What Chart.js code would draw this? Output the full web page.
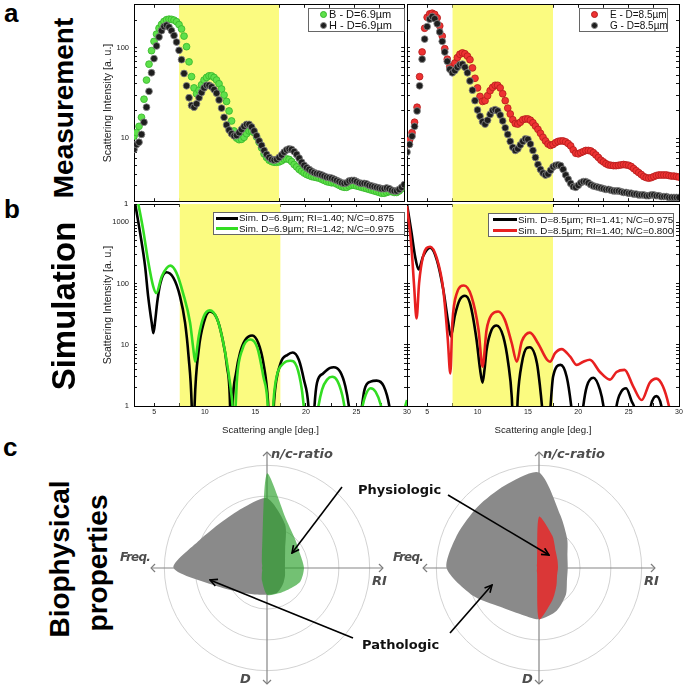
<!DOCTYPE html>
<html>
<head>
<meta charset="utf-8">
<script src="https://cdn.jsdelivr.net/npm/chart.js@4"></script>
<style>
  body { margin: 0; background: #fff; }
  #fig { position: relative; width: 685px; height: 686px; overflow: hidden; font-family: "Liberation Sans", Arial, sans-serif; }
  #fig canvas { position: absolute; }
  .t { position: absolute; white-space: nowrap; line-height: 1; }
  .rot { position: absolute; white-space: nowrap; line-height: 1; font-weight: bold; transform: translate(-50%, -50%) rotate(-90deg); }
  .ax { position: absolute; white-space: nowrap; line-height: 1; font-family: "DejaVu Sans", sans-serif; font-weight: bold; font-style: italic; color: #4d4d4d; font-size: 13px; transform: translateY(-50%); }
  .fq { font-size: 12px; letter-spacing: -0.8px; transform: translate(-100%, -50%); }
  .call { position: absolute; white-space: nowrap; line-height: 1; font-family: "DejaVu Sans", sans-serif; font-weight: bold; font-size: 13px; color: #111; transform: translateY(-50%); }
  .lg { position: absolute; box-sizing: border-box; border: 1px solid #666; background: #fff; display: flex; flex-direction: column; justify-content: center; line-height: 1; color: #111; overflow: hidden; }
  .lr { display: flex; align-items: center; height: 11px; white-space: nowrap; }
  .dot { display: inline-block; flex-shrink: 0; box-sizing: border-box; width: 7px; height: 7px; border-radius: 50%; border: 0.8px solid; }
  .seg { display: inline-block; flex-shrink: 0; height: 3px; }
  svg { position: absolute; left: 0; top: 0; }
</style>
</head>
<body>
<div id="fig">
  <canvas id="tl" width="313" height="206" style="left:96px;top:0px"></canvas>
  <canvas id="tr" width="285" height="206" style="left:400px;top:0px"></canvas>
  <canvas id="bl" width="321" height="238" style="left:96px;top:202px"></canvas>
  <canvas id="br" width="285" height="238" style="left:400px;top:202px"></canvas>
  <canvas id="rl" width="248" height="248" style="left:143px;top:444px"></canvas>
  <canvas id="rr" width="248" height="248" style="left:415px;top:444px"></canvas>

  <div class="t" style="left:4px;top:0px;font-size:26px;font-weight:bold">a</div>
  <div class="t" style="left:4px;top:196px;font-size:26px;font-weight:bold">b</div>
  <div class="t" style="left:3px;top:434px;font-size:26px;font-weight:bold">c</div>
  <div class="rot" style="left:64px;top:108px;font-size:28px">Measurement</div>
  <div class="rot" style="left:63px;top:306px;font-size:33px">Simulation</div>
  <div class="rot" style="left:60px;top:559px;font-size:28px">Biophysical</div>
  <div class="rot" style="left:98px;top:563px;font-size:28px">properties</div>
  <div class="t" style="left:124px;top:200px;font-size:7.5px">1</div>

  <div class="ax" style="left:271px;top:453px">n/c-ratio</div>
  <div class="ax fq" style="left:150px;top:557px">Freq.</div>
  <div class="ax" style="left:372px;top:580px">RI</div>
  <div class="ax" style="left:240px;top:678px">D</div>
  <div class="ax" style="left:543px;top:453px">n/c-ratio</div>
  <div class="ax fq" style="left:423px;top:557px">Freq.</div>
  <div class="ax" style="left:644px;top:580px">RI</div>
  <div class="ax" style="left:522px;top:678px">D</div>
  <div class="call" style="left:358px;top:489px">Physiologic</div>
  <div class="call" style="left:362px;top:644px">Pathologic</div>

  <svg width="685" height="686">
    <defs>
      <marker id="ah" viewBox="0 0 10 10" refX="9" refY="5" markerWidth="9" markerHeight="9" markerUnits="userSpaceOnUse" orient="auto">
        <path d="M1,1 L9,5 L1,9" fill="none" stroke="#000" stroke-width="1.8"/>
      </marker>
    </defs>
    <g stroke="#000" stroke-width="1.6" fill="none" marker-end="url(#ah)">
      <line x1="342" y1="487" x2="292" y2="553"/>
      <line x1="448" y1="495" x2="549" y2="555"/>
      <line x1="353" y1="638" x2="210" y2="580"/>
      <line x1="450" y1="633" x2="492" y2="585"/>
    </g>
  </svg>
</div>

<script>
// scattering angle of the measured points, 0.25 deg step from 3 to 30 deg
const measAngles = Array.from({ length: 109 }, (_, i) => 3 + i * 0.25);

// measurement, D = 6.9 um
const measB = [10.5, 11.5, 13.5, 17, 27, 44, 66, 93, 118, 142,
  165, 182, 196, 205, 208, 207, 203, 195, 181, 162,
  135, 103, 70, 48, 36, 31, 34, 39, 44, 47,
  49, 49, 47, 44, 40, 35, 30, 25.5, 20, 15.5,
  12, 10, 9.6, 9.7, 10.2, 11.2, 12, 12, 11.5, 10.3,
  9, 7.8, 6.7, 6.1, 5.7, 5.5, 5.4, 5.4, 5.45, 5.6,
  5.85, 5.9, 5.8, 5.5, 5.1, 4.8, 4.5, 4.3, 4.1, 3.95,
  3.85, 3.75, 3.7, 3.65, 3.6, 3.5, 3.4, 3.3, 3.25, 3.2,
  3.2, 3.1, 3.0, 2.9, 2.85, 2.85, 2.95, 3.0, 3.0, 2.95,
  2.9, 2.85, 2.8, 2.75, 2.7, 2.65, 2.6, 2.55, 2.5, 2.45,
  2.45, 2.5, 2.55, 2.55, 2.5, 2.5, 2.6, 2.75, 2.9];
const measH = [7.5, 8.5, 9, 11, 15, 22, 33, 53, 76, 105,
  132, 155, 172, 178, 170, 155, 137, 116, 94, 74,
  52, 38, 28, 23, 22, 24, 28, 32, 36, 38.5,
  38.5, 37, 34.5, 31.5, 26.5, 21.5, 17, 14, 12.3, 11.2,
  10.6, 10.7, 11.5, 12.5, 13.5, 14.2, 14.2, 13.3, 12, 10.6,
  9.3, 8.3, 7.3, 6.6, 6.1, 5.8, 5.7, 5.8, 6.1, 6.5,
  7.0, 7.4, 7.6, 7.5, 7.1, 6.6, 6.0, 5.4, 5.0, 4.7,
  4.5, 4.3, 4.15, 4.05, 4.0, 3.9, 3.8, 3.7, 3.65, 3.6,
  3.5, 3.4, 3.3, 3.2, 3.15, 3.2, 3.35, 3.4, 3.4, 3.3,
  3.2, 3.15, 3.15, 3.1, 3.0, 2.95, 2.9, 2.85, 2.8, 2.75,
  2.75, 2.8, 2.75, 2.65, 2.6, 2.6, 2.7, 2.85, 3.05];

// measurement, D = 8.5 um
const measE = [8.5, 9.5, 11.5, 15, 22, 48, 90, 165, 218, 238,
  242, 235, 215, 175, 135, 98, 75, 62, 59, 68,
  78, 85, 88, 86, 81, 74, 60, 46, 36, 29,
  25.5, 26, 29.5, 33.5, 36.5, 38.5, 38.5, 36, 31, 26,
  21.5, 18.5, 16, 14.5, 14.3, 15, 16, 16.3, 16.3, 15.8,
  14.8, 13.6, 12.5, 11.3, 10.2, 9.3, 8.6, 8.3, 8.5, 8.9,
  9.2, 9.3, 9.3, 9.1, 8.7, 8.2, 7.4, 6.8, 6.7, 6.9,
  7.1, 7.3, 7.3, 7.2, 6.9, 6.5, 6.1, 5.7, 5.45, 5.2,
  5.05, 5.0, 4.95, 4.95, 5.0, 5.05, 5.1, 5.05, 5.0, 4.85,
  4.6, 4.35, 4.15, 3.95, 3.75, 3.65, 3.6, 3.65, 3.75, 3.85,
  3.9, 3.9, 3.9, 3.9, 3.85, 3.8, 3.8, 3.75, 3.7];
const measG = [7, 8.5, 10.5, 13.5, 20, 38, 75, 125, 172, 208,
  222, 210, 185, 150, 118, 90, 71, 58, 53, 56,
  61, 65, 66, 61, 53, 43, 34, 26, 20.5, 17.5,
  15.2, 14.3, 15.8, 18.3, 20.2, 20.7, 20, 18, 15.5, 13,
  11, 9.2, 7.9, 7.3, 7.6, 8.4, 9.2, 9.8, 9.7, 8.6,
  7.3, 6.1, 5.1, 4.5, 4.1, 3.9, 4.0, 4.4, 4.8, 5.0,
  5.05, 4.95, 4.5, 3.9, 3.5, 3.15, 2.9, 2.85, 3.0, 3.2,
  3.3, 3.3, 3.2, 3.05, 2.95, 2.9, 2.85, 2.8, 2.75, 2.7,
  2.7, 2.65, 2.6, 2.6, 2.6, 2.55, 2.5, 2.5, 2.45, 2.45,
  2.4, 2.4, 2.35, 2.35, 2.35, 2.3, 2.3, 2.35, 2.35, 2.3,
  2.3, 2.25, 2.25, 2.25, 2.2, 2.2, 2.2, 2.2, 2.2];

// simulations, D = 6.9 um
const simA_x = [3.0, 3.6, 4.1, 4.4, 4.75, 4.92, 5.1, 5.3, 5.6, 6.2, 6.9, 7.55, 8.05, 8.4, 8.7, 8.85, 9.0, 9.4, 9.9, 10.5,
  11.2, 11.7, 12.2, 12.5, 12.6, 12.75, 13.1, 13.5, 14.0, 14.7, 15.3, 15.8, 16.25, 16.55, 16.85, 17.5, 18.2, 18.7, 19.3, 19.8,
  20.25, 20.55, 20.85, 21.1, 21.7, 22.4, 22.75, 23.4, 23.9, 24.25, 24.9, 25.55, 25.8, 26.4, 27.0, 27.7, 28.25, 29.0, 30.0];
const simA_y = [2600, 680, 190, 62, 23, 15.5, 25, 50, 100, 153, 124, 62, 23, 6.4, 1.1, 0.1, 1.1, 8.3, 23, 35,
  27, 13.7, 4.4, 1.0, 0.1, 1.0, 3.5, 7.5, 12, 14.2, 10.6, 5, 1.2, 0.1, 1.2, 5, 6.9, 7.5, 5.7, 2.7,
  1.0, 0.1, 1.0, 2.4, 3.4, 4.2, 4.3, 3.6, 2.1, 1.0, 0.1, 1.0, 1.85, 2.5, 2.6, 2.1, 1.0, 0.1, 0.6];
const simB_x = [3.0, 3.4, 3.9, 4.4, 4.9, 5.2, 5.75, 6.6, 7.2, 7.85, 8.55, 8.85, 9.05, 9.25, 9.4, 9.9, 10.5, 11.2, 11.7, 12.2,
  12.7, 12.9, 13.05, 13.2, 13.7, 14.5, 15.2, 15.8, 16.2, 16.5, 16.8, 17.1, 17.8, 18.45, 19.1, 19.6, 19.85, 20.5, 21.15, 21.6,
  22.1, 22.6, 23.1, 23.6, 23.85, 24.7, 25.55, 25.9, 26.4, 26.9, 27.4, 28.6, 29.8, 30.0];
const simB_y = [4500, 2100, 770, 232, 90, 70, 132, 197, 150, 70, 22.7, 9, 5.3, 9, 13.7, 29, 36.5, 27, 13.7, 5,
  1.25, 0.5, 1.0, 3, 8.3, 12.2, 8.9, 3, 1.2, 0.1, 1.2, 3, 5, 5.5, 4.4, 1.85, 0.8, 0.1, 0.8, 1.85,
  2.7, 3.0, 2.6, 1.5, 0.9, 0.1, 0.9, 1.5, 1.95, 1.7, 1.05, 0.1, 0.95, 1.25];

// simulations, D = 8.5 um
const simC_x = [3.0, 3.45, 3.8, 4.15, 4.6, 5.3, 5.95, 6.6, 7.1, 7.35, 7.75, 8.25, 8.75, 9.25, 9.9, 10.25, 10.5, 10.7, 10.9, 11.4,
  11.9, 12.55, 13.05, 13.4, 13.7, 14.0, 14.4, 14.9, 15.2, 15.9, 16.2, 16.45, 16.85, 17.25, 17.5, 18.25, 18.85, 19.3, 19.9, 20.5,
  20.85, 21.5, 22.15, 22.5, 23.15, 23.8, 24.3, 24.75, 25.3, 25.6, 26.4, 27.2, 27.75, 28.25, 29.0, 30.0];
const simC_y = [1970, 678, 280, 170, 280, 385, 247, 80, 22.7, 13.7, 30, 55, 63.5, 48, 12.2, 4, 2.4, 4, 8.3, 17.6,
  20.7, 13.7, 5, 1.4, 0.1, 1.4, 5, 8.9, 9.1, 5, 2.1, 0.8, 0.1, 1.0, 3, 4.7, 3, 1, 0.1, 1,
  2.1, 2.9, 1.85, 1, 0.1, 1, 1.75, 1.95, 1.2, 0.9, 0.1, 1.0, 1.45, 1.0, 0.1, 0.5];
const simD_x = [3.0, 3.45, 3.7, 3.95, 4.2, 4.6, 5.3, 5.95, 6.6, 7.05, 7.3, 7.5, 7.95, 8.65, 9.4, 10.1, 10.5, 10.9, 11.4, 12.05,
  12.7, 13.4, 13.9, 14.4, 15.2, 16.0, 16.9, 17.2, 17.7, 18.35, 19.2, 19.85, 20.5, 21.15, 22.15, 23.15, 23.8, 24.6, 25.45, 26.3,
  27.1, 27.75, 28.4, 29.0, 29.6, 30.0];
const simD_y = [1850, 380, 95, 27, 102, 280, 400, 263, 80, 12.2, 3.4, 22.7, 70, 93, 62, 17.6, 4.4, 17.6, 31, 35,
  25.8, 10.6, 5.3, 11.4, 15.8, 10.6, 5.7, 5.3, 7.3, 8.5, 6.4, 4.7, 5.3, 5.7, 3.6, 2.7, 3.6, 3.9, 2.1, 1.25,
  2.4, 2.8, 2.1, 1.0, 0.3, 0.15];

const angleRange = [3, 30];
const bandRange = [7.5, 17.5];
const measRange = [2, 300];
const simRange = [1, 2000];

// radar: 16 spokes, n/c-ratio up, RI right, D down, Freq. left
const spokeLabels = ['n/c-ratio', '', '', '', 'RI', '', '', '', 'D', '', '', '', 'Freq.', '', '', ''];
const physioLeft = [9.2, 5.0, 3.9, 3.5, 3.6, 3.5, 2.95, 2.7, 2.6, 1.3, 0.7, 0.5, 0.5, 0.5, 0.7, 1.3];
const pathoLeft = [6.8, 4.6, 2.5, 1.9, 1.75, 1.9, 2.2, 2.6, 2.6, 2.8, 3.4, 4.9, 9.1, 7.1, 6.3, 6.3];
const physioRight = [5.0, 3.4, 2.3, 1.95, 1.85, 1.9, 2.4, 3.4, 5.0, 0.5, 0.3, 0.2, 0.2, 0.2, 0.3, 0.5];
const pathoRight = [9.3, 5.5, 3.9, 3.0, 2.8, 2.95, 3.7, 4.5, 5.0, 4.85, 5.35, 7.0, 9.0, 8.6, 8.45, 8.7];
const ringValues = [0, 1, 4, 7, 10];
const rMax = 11.3;

const FONT = '"Liberation Sans", Arial, sans-serif';
const YELLOW = '#fbfb80';

function logLabel(v) {
  const e = Math.log10(v);
  return Math.abs(e - Math.round(e)) < 1e-6 ? String(Math.round(v)) : '';
}
function wholeDecadeTicks(scale) {
  scale.ticks = scale.ticks.filter(t => {
    const m = t.value / Math.pow(10, Math.floor(Math.log10(t.value) + 1e-9));
    return Math.abs(m - Math.round(m)) < 1e-6;
  });
}

function panelScales(o) {
  const grid = { drawOnChartArea: false, tickLength: -3, tickColor: '#000', tickWidth: 0.9 };
  const border = { color: '#000', width: 1 };
  const xTicks = { stepSize: 2.5, includeBounds: false, autoSkip: false, maxRotation: 0 };
  return {
    x: {
      type: 'linear', min: angleRange[0], max: angleRange[1], position: 'bottom', grid, border,
      ticks: Object.assign({ display: o.showX, padding: 4.8, color: '#222', font: { family: FONT, size: 7 },
        callback: v => (v % 5 === 0 ? String(v) : '') }, xTicks),
      title: { display: o.showX, text: 'Scattering angle [deg.]', color: '#222', font: { family: FONT, size: 9.7 }, padding: { top: 0, bottom: 3.7 } },
      afterFit: s => { s.height = o.showX ? 34 : 0; s.paddingLeft = 0; s.paddingRight = 0; }
    },
    x2: {
      type: 'linear', min: angleRange[0], max: angleRange[1], position: 'top', grid, border,
      ticks: Object.assign({ display: false }, xTicks),
      afterFit: s => { s.height = 0; }
    },
    y: {
      type: 'logarithmic', min: o.range[0], max: o.range[1], position: 'left', grid, border,
      afterBuildTicks: wholeDecadeTicks,
      ticks: { display: o.showY, autoSkip: false, padding: 8, color: '#222', font: { family: FONT, size: 7.5 }, callback: logLabel },
      title: { display: o.showY, text: 'Scattering Intensity [a. u.]', color: '#222', font: { family: FONT, size: 10.5 }, padding: { top: 5.7, bottom: 0 } },
      // keep the plot box fixed: no extra room for the end labels
      afterFit: s => { s.width = o.showY ? 38 : 7; s.paddingTop = 0; s.paddingBottom = 0; }
    },
    y2: {
      type: 'logarithmic', min: o.range[0], max: o.range[1], position: 'right', grid, border,
      afterBuildTicks: wholeDecadeTicks,
      ticks: { display: false, autoSkip: false },
      afterFit: s => { s.width = 0; s.paddingTop = 0; s.paddingBottom = 0; }
    }
  };
}

function measSeries(label, values, fill, edge, order) {
  return {
    label, order, showLine: false, borderColor: fill,
    data: measAngles.map((a, i) => ({ x: a, y: values[i] })),
    pointRadius: 3.4, pointBorderWidth: 0.8, pointBackgroundColor: fill, pointBorderColor: edge
  };
}
function simSeries(label, xs, ys, color, order) {
  return {
    label, order, borderColor: color, borderWidth: 2.6, pointRadius: 0, fill: false,
    cubicInterpolationMode: 'monotone',
    data: xs.map((x, i) => ({ x, y: ys[i] }))
  };
}
function band(yTop) {
  return {
    order: 9, fill: 'start', backgroundColor: YELLOW, borderWidth: 0, pointRadius: 0,
    data: bandRange.map(a => ({ x: a, y: yTop }))
  };
}

function linePanel(id, o) {
  return new Chart(document.getElementById(id), {
    type: 'line',
    data: { datasets: o.series.concat([band(o.range[1])]) },
    options: {
      responsive: false, animation: false,
      layout: { padding: o.pad },
      plugins: { legend: { display: false }, tooltip: { enabled: false } },
      scales: panelScales(o)
    }
  });
}

const fig = document.getElementById('fig');
function htmlLegend(chart, c) {
  const box = document.createElement('div');
  box.className = 'lg';
  Object.assign(box.style, { left: c.left + 'px', top: c.top + 'px', width: c.width + 'px', height: c.height + 'px',
    fontSize: c.font + 'px', paddingLeft: c.pad + 'px', fontFamily: FONT });
  chart.data.datasets.forEach(ds => {
    if (!ds.label) return;
    const row = document.createElement('div');
    row.className = 'lr';
    const sym = document.createElement('span');
    if (ds.showLine === false) {
      sym.className = 'dot';
      sym.style.background = ds.pointBackgroundColor;
      sym.style.borderColor = ds.pointBorderColor;
    } else {
      sym.className = 'seg';
      sym.style.background = ds.borderColor;
      sym.style.width = c.symW + 'px';
    }
    sym.style.marginRight = c.gap + 'px';
    row.appendChild(sym);
    row.appendChild(document.createTextNode(ds.label));
    box.appendChild(row);
  });
  fig.appendChild(box);
}

const tl = linePanel('tl', {
  range: measRange, showX: false, showY: true, pad: { top: 2, right: 2, bottom: 2, left: 0 },
  series: [measSeries('B - D=6.9µm', measB, '#5ee04a', '#35b52a', 1), measSeries('H - D=6.9µm', measH, '#1e1e1e', '#8a8a8a', 0)]
});
const tr = linePanel('tr', {
  range: measRange, showX: false, showY: false, pad: { top: 2, right: 6, bottom: 2, left: 0 },
  series: [measSeries('E - D=8.5µm', measE, '#ee3232', '#b41c1c', 1), measSeries('G - D=8.5µm', measG, '#1e1e1e', '#8a8a8a', 0)]
});
const bl = linePanel('bl', {
  range: simRange, showX: true, showY: true, pad: { top: 2, right: 10, bottom: 0, left: 0 },
  series: [simSeries('Sim. D=6.9µm; RI=1.40; N/C=0.875', simA_x, simA_y, '#000000', 1),
           simSeries('Sim. D=6.9µm; RI=1.42; N/C=0.975', simB_x, simB_y, '#33dd22', 0)]
});
const br = linePanel('br', {
  range: simRange, showX: true, showY: false, pad: { top: 2, right: 6, bottom: 0, left: 0 },
  series: [simSeries('Sim. D=8.5µm; RI=1.41; N/C=0.975', simC_x, simC_y, '#000000', 1),
           simSeries('Sim. D=8.5µm; RI=1.40; N/C=0.800', simD_x, simD_y, '#e82020', 0)]
});

htmlLegend(tl, { left: 308, top: 8, width: 97, height: 24, font: 11, pad: 11, gap: 2 });
htmlLegend(tr, { left: 579, top: 8, width: 89, height: 24, font: 10, pad: 11, gap: 12 });
htmlLegend(bl, { left: 213, top: 212, width: 192, height: 23, font: 9.8, pad: 2, symW: 22, gap: 1 });
htmlLegend(br, { left: 488, top: 213, width: 186, height: 24, font: 9.8, pad: 4, symW: 24, gap: 1 });

// open arrow heads at the axis ends of the radar plots
function chevron() {
  const c = document.createElement('canvas');
  c.width = 12; c.height = 12;
  const g = c.getContext('2d');
  g.strokeStyle = '#7d7d7d';
  g.lineWidth = 1.2;
  g.beginPath();
  g.moveTo(2, 10); g.lineTo(6, 6); g.lineTo(10, 10);
  g.stroke();
  return c;
}
const arrowHead = chevron();
const axisEnds = spokeLabels.map(l => (l ? rMax : null));

function radar(id, physio, patho, physioColor) {
  return new Chart(document.getElementById(id), {
    type: 'radar',
    data: {
      labels: spokeLabels,
      datasets: [
        { label: 'Physiologic', data: physio, backgroundColor: physioColor, borderWidth: 0, pointRadius: 0, fill: 'start', tension: 0.25 },
        { label: 'Pathologic', data: patho, backgroundColor: '#8a8a8a', borderWidth: 0, pointRadius: 0, fill: 'start', tension: 0.25 },
        { label: 'axes', data: axisEnds, showLine: false, fill: false, borderWidth: 0, pointRadius: 6,
          pointStyle: arrowHead, pointRotation: ctx => ctx.dataIndex * 22.5 }
      ]
    },
    options: {
      responsive: false, animation: false,
      layout: { padding: 8 },
      plugins: { legend: { display: false }, tooltip: { enabled: false } },
      scales: {
        r: {
          min: 0, max: rMax,
          ticks: { display: false },
          pointLabels: { display: false },
          grid: { circular: true, color: '#cdcdcd', lineWidth: 0.9 },
          angleLines: { color: ctx => (ctx.index % 4 === 0 ? '#858585' : 'rgba(0,0,0,0)'), lineWidth: 1.2 },
          afterBuildTicks: s => { s.ticks = ringValues.map(v => ({ value: v })); }
        }
      }
    }
  });
}
radar('rl', physioLeft, pathoLeft, 'rgba(40,160,40,0.65)');
radar('rr', physioRight, pathoRight, 'rgba(232,40,40,0.85)');
</script>
</body>
</html>
